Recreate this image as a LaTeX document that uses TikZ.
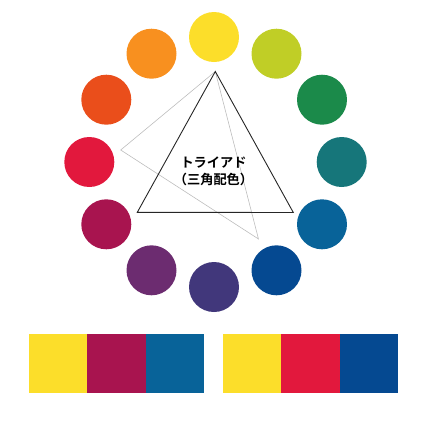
\documentclass[tikz,border=0pt]{standalone}
\usepackage{fontspec}
\newfontfamily\jpfont{Noto Sans CJK JP Bold}
\usepackage{tikz}
\definecolor{cyellow}{HTML}{FCDE2A}
\definecolor{cyelgreen}{HTML}{C0CE26}
\definecolor{cgreen}{HTML}{1B8A4A}
\definecolor{cteal}{HTML}{16767A}
\definecolor{cblue}{HTML}{086399}
\definecolor{cdarkblue}{HTML}{054991}
\definecolor{cindigo}{HTML}{41377B}
\definecolor{cpurple}{HTML}{6C2C70}
\definecolor{cmagenta}{HTML}{A8144F}
\definecolor{cred}{HTML}{E2183D}
\definecolor{credorange}{HTML}{EA4E1B}
\definecolor{corange}{HTML}{F8901F}
\definecolor{cgreyline}{HTML}{BDBDBD}

\begin{document}
\begin{tikzpicture}[x=1pt, y=-1pt]
			%%%%% START %%%%%
			\useasboundingbox (0, 0) rectangle (426, 426);
			
			\fill[cyellow] (214, 37) circle (25pt);
			\fill[cyelgreen] (276.5, 53.7) circle (25pt);
			\fill[cgreen] (322, 99.7) circle (25pt);
			\fill[cteal] (341.7, 162) circle (25pt);
			\fill[cblue] (322, 224.3) circle (25pt);
			\fill[cdarkblue] (276.5, 270.3) circle (25pt);
			\fill[cindigo] (214, 287) circle (25pt);
			\fill[cpurple] (151.5, 270.3) circle (25pt);
			\fill[cmagenta] (106.3, 224.3) circle (25pt);
			\fill[cred] (89.3, 162) circle (25pt);
			\fill[credorange] (106.3, 99.7) circle (25pt);
			\fill[corange] (151.5, 53.7) circle (25pt);
			
			\coordinate (apex) at (215.3, 71.5);
			\coordinate (baseleft) at (137.3, 212.3);
			\coordinate (baseright) at (293.3, 212.5);
			\coordinate (greyleft) at (120.7, 150);
			\coordinate (greybottom) at (258.5, 239);
			
			\draw[line width=0.6pt, color=cgreyline] (apex) -- (greyleft) -- (greybottom) -- cycle;
			\draw[line width=0.9pt, color=black!85] (apex) -- (baseleft) -- (baseright) -- cycle;
			
			\node[align=center, font=\jpfont\fontsize{13.2}{17}\selectfont] (triad) at (213.5, 171) {トライアド\\（三角配色）};
			
			\fill[cyellow] (29, 334) rectangle (87.3, 392.7);
			\fill[cmagenta] (87.3, 334) rectangle (145.6, 392.7);
			\fill[cblue] (145.6, 334) rectangle (204, 392.7);
			
			\fill[cyellow] (223, 334) rectangle (281.3, 392.7);
			\fill[cred] (281.3, 334) rectangle (339.6, 392.7);
			\fill[cdarkblue] (339.6, 334) rectangle (398, 392.7);
			%%%%% END %%%%%
		\end{tikzpicture}
\end{document}
